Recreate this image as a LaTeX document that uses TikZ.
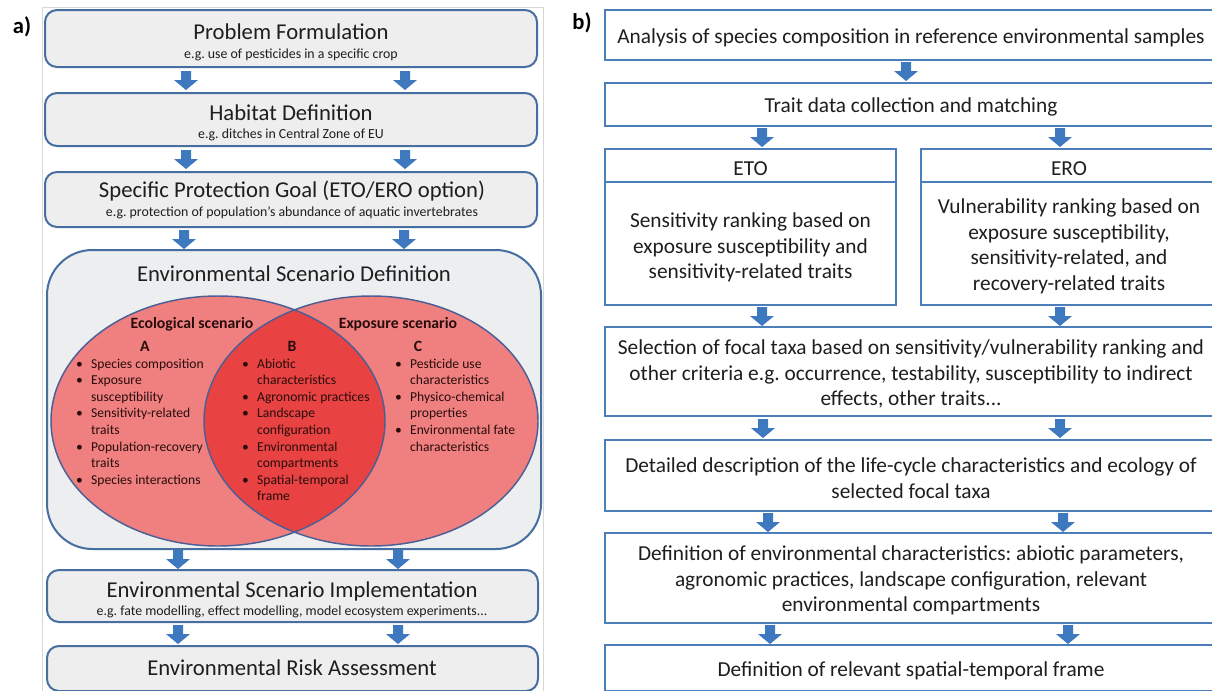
\documentclass[tikz,border=0pt]{standalone}
\usepackage{fontspec}
\setmainfont{Carlito}
\usetikzlibrary{fit,shapes.geometric}
\frenchspacing
\definecolor{edgeblue}{RGB}{70,110,160}
\definecolor{boxgrey}{RGB}{238,238,238}
\definecolor{esdgrey}{RGB}{236,238,240}
\definecolor{arrblue}{RGB}{62,120,190}
\definecolor{frameg}{RGB}{215,215,215}
\definecolor{redlight}{RGB}{240,128,128}
\definecolor{reddark}{RGB}{232,66,66}
\definecolor{vennline}{RGB}{75,95,150}
\definecolor{bblue}{RGB}{76,126,186}
\definecolor{txt}{RGB}{30,30,30}
\definecolor{venntxt}{RGB}{40,12,12}
\newcommand\panelbfont{\fontsize{16}{19.1}\selectfont}
\newcommand\vennfont{\fontsize{10.2}{12.45}\selectfont}
\begin{document}
\begin{tikzpicture}[x=0.75pt,y=-0.75pt,
  every node/.style={inner sep=0pt,outer sep=0pt,text=txt},
  abox/.style={draw=edgeblue,line width=1.5pt,fill=boxgrey,rounded corners=9pt,fit={#1}},
  bbox/.style={draw=bblue,line width=2pt,fill=white,fit={#1}},
  btxt/.style={align=center,font=\panelbfont,yshift=-2pt},
  ttl/.style={anchor=base,font=\fontsize{17}{20}\selectfont},
  subt/.style={anchor=base,font=\fontsize{10.4}{12}\selectfont},
  vhead/.style={anchor=base,font=\bfseries\fontsize{11.8}{14}\selectfont,text=venntxt},
  vlist/.style={font=\vennfont,text=venntxt,anchor=base west},
  plabel/.style={font=\bfseries\fontsize{17}{20}\selectfont,text=black},
  pics/darrow/.style={code={\fill[arrblue] (-5,0) -- (5,0) -- (5,9) -- (12,9) -- (0,19) -- (-12,9) -- (-5,9) -- cycle;}}
]
\useasboundingbox (0,0) rectangle (1212,690);
\clip (0,0) rectangle (1212,690);
\fill[white] (0,0) rectangle (1212,690);

% ---------- panel a ----------
\node[plabel] (la) at (22,27) {a)};
\node[draw=frameg,line width=0.6pt,fit={(42,7) (543,700)}] (framea) {};

\node[abox={(45,10) (537,67)}] (pf) {};
\node[ttl] (pf-t) at (291,39) {Problem Formulation};
\node[subt] (pf-s) at (291,58) {e.g. use of pesticides in a specific crop};

\node[abox={(45,93) (537,146)}] (hd) {};
\node[ttl] (hd-t) at (291,120) {Habitat Definition};
\node[subt] (hd-s) at (291,138) {e.g. ditches in Central Zone of EU};

\node[abox={(45,172) (537,227)}] (spg) {};
\node[ttl] (spg-t) at (292,197) {Specific Protection Goal (ETO/ERO option)};
\node[subt] (spg-s) at (292,216) {e.g. protection of population’s abundance of aquatic invertebrates};

\pic (a1l) at (186,71) {darrow};
\pic (a1r) at (405,71) {darrow};
\pic (a2l) at (186,150) {darrow};
\pic (a2r) at (405,150) {darrow};
\pic (a3l) at (184,230) {darrow};
\pic (a3r) at (404,230) {darrow};

% environmental scenario definition with the two overlapping scenarios
\node[draw=edgeblue,line width=1.5pt,fill=esdgrey,rounded corners=34pt,fit={(47,250) (541,549)}] (esd) {};
\node[ttl] (esd-t) at (294,281) {Environmental Scenario Definition};

\fill[redlight] (218,421) ellipse [x radius=125.25pt,y radius=93.75pt];
\fill[redlight] (371,421) ellipse [x radius=125.25pt,y radius=93.75pt];
\begin{scope}
  \clip (218,421) ellipse [x radius=125.25pt,y radius=93.75pt];
  \fill[reddark] (371,421) ellipse [x radius=125.25pt,y radius=93.75pt];
\end{scope}
\node[draw=vennline,line width=1.1pt,ellipse,minimum width=250.5pt,minimum height=187.5pt] (eco) at (218,421) {};
\node[draw=vennline,line width=1.1pt,ellipse,minimum width=250.5pt,minimum height=187.5pt] (expo) at (371,421) {};

\node[vhead] (eco-t) at (192,328) {Ecological scenario};
\node[vhead] (expo-t) at (398,328) {Exposure scenario};
\node[vhead] (la-A) at (145,351) {A};
\node[vhead] (la-B) at (292,351) {B};
\node[vhead] (la-C) at (418,351) {C};

\node[vlist] (listA) at (76,368) {\begin{tabular}[t]{@{}l@{\hspace{6.3pt}}l@{}}
\textbullet & Species composition\\
\textbullet & Exposure\\
 & susceptibility\\
\textbullet & Sensitivity-related\\
 & traits\\
\textbullet & Population-recovery\\
 & traits\\
\textbullet & Species interactions
\end{tabular}};
\node[vlist] (listB) at (242,368) {\begin{tabular}[t]{@{}l@{\hspace{6.3pt}}l@{}}
\textbullet & Abiotic\\
 & characteristics\\
\textbullet & Agronomic practices\\
\textbullet & Landscape\\
 & configuration\\
\textbullet & Environmental\\
 & compartments\\
\textbullet & Spatial-temporal\\
 & frame
\end{tabular}};
\node[vlist] (listC) at (395,368) {\begin{tabular}[t]{@{}l@{\hspace{6.3pt}}l@{}}
\textbullet & Pesticide use\\
 & characteristics\\
\textbullet & Physico-chemical\\
 & properties\\
\textbullet & Environmental fate\\
 & characteristics
\end{tabular}};

\pic (a4l) at (178,550) {darrow};
\pic (a4r) at (398,550) {darrow};

\node[abox={(47,570) (538,622)}] (esi) {};
\node[ttl] (esi-t) at (292,597) {Environmental Scenario Implementation};
\node[subt] (esi-s) at (292,615) {e.g. fate modelling, effect modelling, model ecosystem experiments...};

\pic (a5l) at (178,625) {darrow};
\pic (a5r) at (398,625) {darrow};

\node[abox={(47,646) (538,691)}] (era) {};
\node[ttl] (era-t) at (292,675) {Environmental Risk Assessment};

% ---------- panel b ----------
\node[plabel] (lb) at (582,23) {b)};

\node[bbox={(605,10) (1217,60)}] (s1) {};
\node[btxt] (s1-t) at (s1.center) {Analysis of species composition in reference environmental samples};
\pic (b1) at (906,62) {darrow};
\node[bbox={(605,83) (1217,126)}] (s2) {};
\node[btxt] (s2-t) at (s2.center) {Trait data collection and matching};
\pic (b2l) at (762,128) {darrow};
\pic (b2r) at (1060,128) {darrow};

\node[bbox={(605,149) (896,182)}] (eto-h) {};
\node[btxt] (eto-ht) at (eto-h.center) {ETO};
\node[bbox={(605,182) (896,305)}] (eto) {};
\node[btxt] (eto-t) at ([yshift=-1pt]eto.center) {Sensitivity ranking based on\\exposure susceptibility and\\sensitivity-related traits};
\node[bbox={(921,149) (1217,182)}] (ero-h) {};
\node[btxt] (ero-ht) at (ero-h.center) {ERO};
\node[bbox={(921,182) (1217,305)}] (ero) {};
\node[btxt] (ero-t) at (ero.center) {Vulnerability ranking based on\\exposure susceptibility,\\sensitivity-related, and\\recovery-related traits};

\pic (b3l) at (762,307) {darrow};
\pic (b3r) at (1060,307) {darrow};
\node[bbox={(605,327) (1217,416)}] (sel) {};
\node[btxt] (sel-t) at (sel.center) {Selection of focal taxa based on sensitivity/vulnerability ranking and\\other criteria e.g. occurrence, testability, susceptibility to indirect\\effects, other traits...};
\pic (b4l) at (763,419) {darrow};
\pic (b4r) at (1060,419) {darrow};
\node[bbox={(605,440) (1217,511)}] (det) {};
\node[btxt] (det-t) at (det.center) {Detailed description of the life-cycle characteristics and ecology of\\selected focal taxa};
\pic (b5l) at (768,513) {darrow};
\pic (b5r) at (1063,513) {darrow};
\node[bbox={(605,533) (1217,623)}] (def) {};
\node[btxt] (def-t) at (def.center) {Definition of environmental characteristics: abiotic parameters,\\agronomic practices, landscape configuration, relevant\\environmental compartments};
\pic (b6l) at (770,625) {darrow};
\pic (b6r) at (1068,625) {darrow};
\node[bbox={(605,645) (1217,691)}] (stf) {};
\node[btxt] (stf-t) at (stf.center) {Definition of relevant spatial-temporal frame};
\end{tikzpicture}
\end{document}
